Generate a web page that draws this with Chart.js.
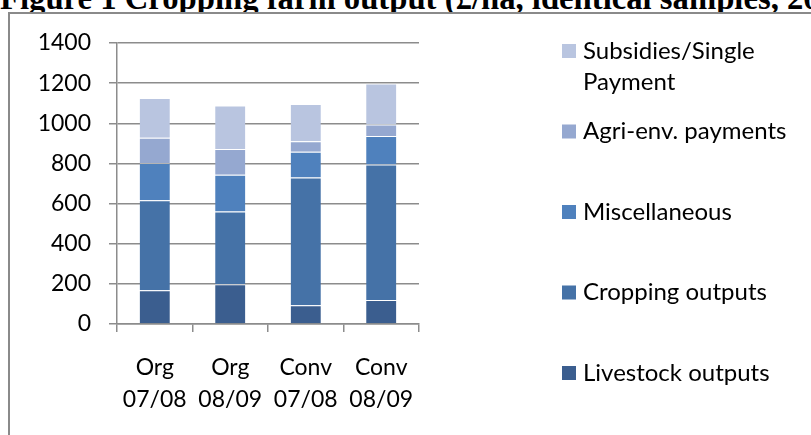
<!DOCTYPE html>
<html>
<head>
<meta charset="utf-8">
<script src="https://cdn.jsdelivr.net/npm/chart.js@4.4.0/dist/chart.umd.min.js"></script>
<style>
  html, body { margin: 0; padding: 0; background: #fff; overflow: hidden; }
  #wrap { position: relative; width: 811px; height: 435px; overflow: hidden; }
  #title {
    position: absolute; left: 0; top: -18px; white-space: nowrap; line-height: 1;
    font-family: "Liberation Serif", serif; font-weight: bold; font-size: 32.7px; color: #000;
  }
  #frame {
    position: absolute; left: 8px; top: 12px; width: 900px; height: 500px;
    border: 2px solid #8a8a8a; box-sizing: border-box; background: #fff;
  }
  canvas { position: absolute; left: 0; top: 0; }
</style>
</head>
<body>
<div id="wrap">
  <div id="title">Figure 1 Cropping farm output (£/ha, identical samples, 2008/09)</div>
  <div id="frame"></div>
  <canvas id="chart" width="811" height="435"></canvas>
</div>
<script>
const categories = [['Org', '07/08'], ['Org', '08/09'], ['Conv', '07/08'], ['Conv', '08/09']];
const livestock = [168, 198, 93, 119];
const cropping = [448, 363, 637, 676];
const misc = [186, 182, 128, 142];
const agriEnv = [126, 129, 53, 57];
const subsidies = [198, 216, 185, 204];
const yTicks = [0, 200, 400, 600, 800, 1000, 1200, 1400];

const FONT = 'Lato';
const gridGray = '#8c8c8c';

function ds(label, data, color, legendLines) {
  return {
    label: label,
    legendLines: legendLines || [label],
    data: data,
    backgroundColor: color,
    borderColor: 'rgba(255,255,255,0.35)',
    borderWidth: { top: 1 },
    borderSkipped: 'start',
    barPercentage: 0.8,
    categoryPercentage: 0.5,
  };
}

// legend drawn to the right, top item = last dataset
const sideLegend = {
  id: 'sideLegend',
  afterDraw(chart) {
    const ctx = chart.ctx;
    const sets = chart.data.datasets.slice().reverse();
    ctx.save();
    ctx.font = '24px ' + FONT;
    ctx.textBaseline = 'middle';
    sets.forEach(function(d, i) {
      const cy = 51 + i * 80.5;
      ctx.fillStyle = d.backgroundColor;
      ctx.fillRect(562, cy - 7, 14, 14);
      ctx.fillStyle = '#000';
      d.legendLines.forEach(function(line, j) {
        ctx.fillText(line, 583, cy + j * 31);
      });
    });
    ctx.restore();
  }
};

new Chart(document.getElementById('chart').getContext('2d'), {
  type: 'bar',
  data: {
    labels: categories,
    datasets: [
      ds('Livestock outputs', livestock, '#3b5e8f'),
      ds('Cropping outputs', cropping, '#4572a7'),
      ds('Miscellaneous', misc, '#4f81bd'),
      ds('Agri-env. payments', agriEnv, '#95a8d0'),
      ds('Subsidies/Single Payment', subsidies, '#b9c5e0', ['Subsidies/Single', 'Payment']),
    ],
  },
  options: {
    responsive: false,
    animation: false,
    layout: { padding: { left: 0, right: 392, top: 43, bottom: 0 } },
    plugins: {
      legend: { display: false },
      tooltip: { enabled: false },
    },
    scales: {
      x: {
        stacked: true,
        grid: { drawOnChartArea: false, drawTicks: true, tickLength: 8, color: gridGray, lineWidth: 1.5 },
        border: { display: true, color: gridGray, width: 1.5 },
        ticks: { color: '#000', font: { family: FONT, size: 23, lineHeight: 1.39 }, padding: 20, maxRotation: 0 },
        afterFit(scale) { scale.height = 111; },
      },
      y: {
        stacked: true,
        min: 0,
        max: 1400,
        afterBuildTicks(scale) { scale.ticks = yTicks.map(function(v) { return { value: v }; }); },
        grid: { color: gridGray, lineWidth: 1.5, tickLength: 8 },
        border: { display: true, color: gridGray, width: 1.5 },
        ticks: {
          color: '#000', font: { family: FONT, size: 23 }, padding: 18,
          callback: function(v) { return String(v); },
        },
        afterFit(scale) { scale.width = 117; },
      },
    },
  },
  plugins: [sideLegend],
});
</script>
</body>
</html>
